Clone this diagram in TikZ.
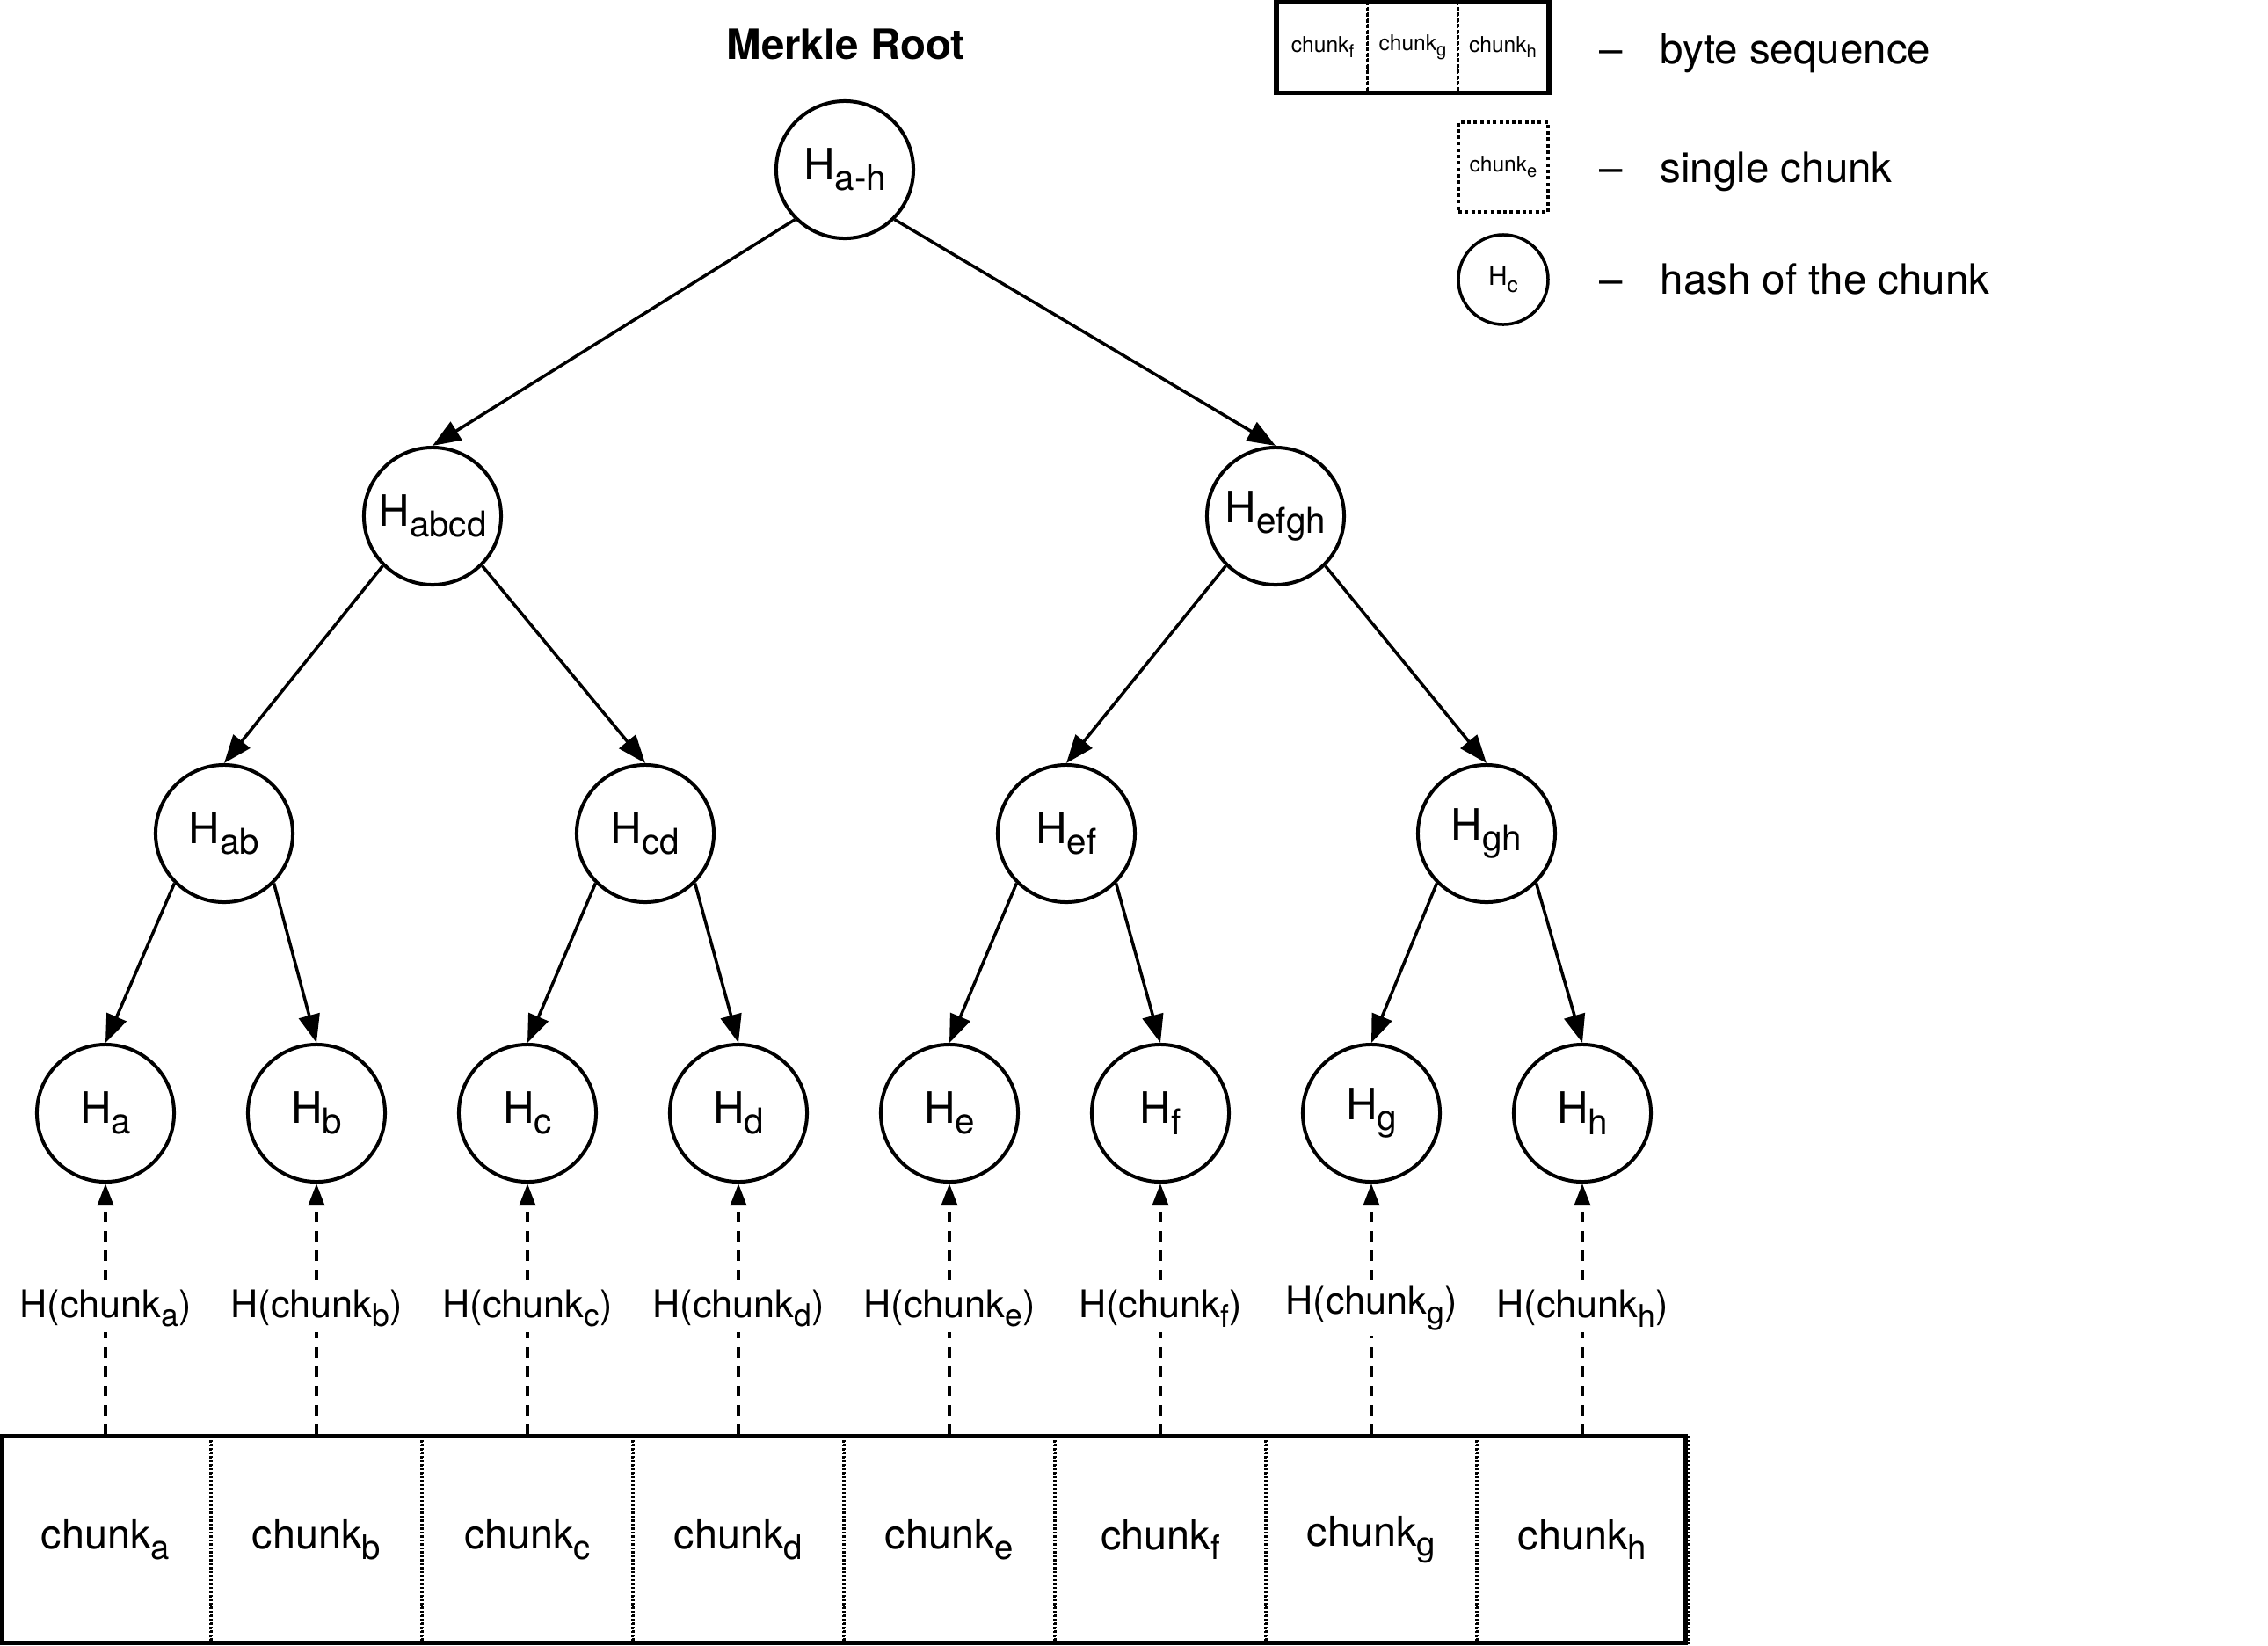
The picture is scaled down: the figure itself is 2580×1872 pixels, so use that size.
\documentclass[tikz,border=0pt]{standalone}
\usepackage{fontspec}
\setmainfont{TeX Gyre Heros}
\usetikzlibrary{arrows.meta}
% lowered, slightly smaller index text
\newcommand{\subs}[1]{\raisebox{-0.25em}{\scalebox{0.82}{#1}}}
\begin{document}
\begin{tikzpicture}[x=0.01cm, y=-0.01cm,
  hashnode/.style={circle, draw, line width=0.04cm, minimum size=1.56cm, inner sep=0pt,
    font=\fontsize{14}{16}\selectfont},
  treeedge/.style={line width=0.035cm, -{Triangle[length=0.32cm,width=0.24cm]}},
  hashedge/.style={line width=0.035cm, dash pattern=on 0.12cm off 0.1cm,
    -{Triangle[length=0.25cm,width=0.18cm]}},
  hlabel/.style={fill=white, inner sep=0.06cm, font=\fontsize{12.3}{15}\selectfont},
  chunkcell/.style={rectangle, draw, line width=0.03cm, dash pattern=on 0.025cm off 0.02cm,
    minimum width=2.4cm, minimum height=2.35cm, inner sep=0pt,
    font=\fontsize{13.3}{16}\selectfont},
  seqframe/.style={line width=0.05cm},
  legcell/.style={rectangle, draw, line width=0.025cm, dash pattern=on 0.04cm off 0.025cm,
    minimum width=1.025cm, minimum height=1.01cm, inner sep=0pt,
    font=\fontsize{7}{8}\selectfont},
  legsingle/.style={rectangle, draw, line width=0.04cm, dash pattern=on 0.04cm off 0.033cm,
    minimum width=1.02cm, minimum height=1.02cm, inner sep=0pt,
    font=\fontsize{7}{8}\selectfont},
  leghash/.style={circle, draw, line width=0.035cm, minimum size=1.02cm, inner sep=0pt,
    font=\fontsize{8.5}{9}\selectfont},
  legtext/.style={inner sep=0pt, font=\fontsize{13.5}{16}\selectfont},
]
\useasboundingbox (0,0) rectangle (2580,1872);

% title
\node[inner sep=0pt, anchor=base, font=\bfseries\fontsize{13.5}{16}\selectfont] (title) at (962,67.5) {Merkle Root};

% tree of hashes
\node[hashnode] (hroot) at (961,193) {H\subs{a-h}};
\node[hashnode] (habcd) at (492,587) {H\subs{abcd}};
\node[hashnode] (hefgh) at (1451,587) {H\subs{efgh}};
\node[hashnode] (hab) at (255,948) {H\subs{ab}};
\node[hashnode] (hcd) at (734,948) {H\subs{cd}};
\node[hashnode] (hef) at (1213,948) {H\subs{ef}};
\node[hashnode] (hgh) at (1691,948) {H\subs{gh}};

\foreach \c [count=\i from 0] in {a,b,c,d,e,f,g,h} {
  \node[hashnode] (leaf\c) at (120+240*\i,1266) {H\subs{\c}};
  \node[chunkcell] (chunk\c) at (120+240*\i,1751) {chunk\subs{\c}};
}

% byte sequence frame
\draw[seqframe] (2.5,1633.5) rectangle (1917.5,1868.5);

% tree edges
\draw[treeedge] (hroot.south west) -- (habcd.north);
\draw[treeedge] (hroot.south east) -- (hefgh.north);
\draw[treeedge] (habcd.south west) -- (hab.north);
\draw[treeedge] (habcd.south east) -- (hcd.north);
\draw[treeedge] (hefgh.south west) -- (hef.north);
\draw[treeedge] (hefgh.south east) -- (hgh.north);
\draw[treeedge] (hab.south west) -- (leafa.north);
\draw[treeedge] (hab.south east) -- (leafb.north);
\draw[treeedge] (hcd.south west) -- (leafc.north);
\draw[treeedge] (hcd.south east) -- (leafd.north);
\draw[treeedge] (hef.south west) -- (leafe.north);
\draw[treeedge] (hef.south east) -- (leaff.north);
\draw[treeedge] (hgh.south west) -- (leafg.north);
\draw[treeedge] (hgh.south east) -- (leafh.north);

% hashing of each chunk
\foreach \c [count=\i from 0] in {a,b,c,d,e,f,g,h} {
  \draw[hashedge] (chunk\c.north) -- (leaf\c.south);
  \node[hlabel] (hashlabel\c) at (120+240*\i,1488) {H(chunk\subs{\c})};
}

% legend
\node[legcell] (keyf) at (1504.5,53.5) {chunk\subs{f}};
\node[legcell] (keyg) at (1607,53.5) {chunk\subs{g}};
\node[legcell] (keyh) at (1709.5,53.5) {chunk\subs{h}};
\draw[line width=0.055cm] (keyf.north west) rectangle (keyh.south east);
\node[legsingle] (keye) at (1710,190) {chunk\subs{e}};
\node[leghash] (keyc) at (1710,318) {H\subs{c}};

\node[legtext, anchor=base] (dash1) at (1833,72) {–};
\node[legtext, anchor=base west] (text1) at (1888,72) {byte sequence};
\node[legtext, anchor=base] (dash2) at (1833,207) {–};
\node[legtext, anchor=base west] (text2) at (1888,207) {single chunk};
\node[legtext, anchor=base] (dash3) at (1833,334) {–};
\node[legtext, anchor=base west] (text3) at (1888,334) {hash of the chunk};
\end{tikzpicture}
\end{document}
